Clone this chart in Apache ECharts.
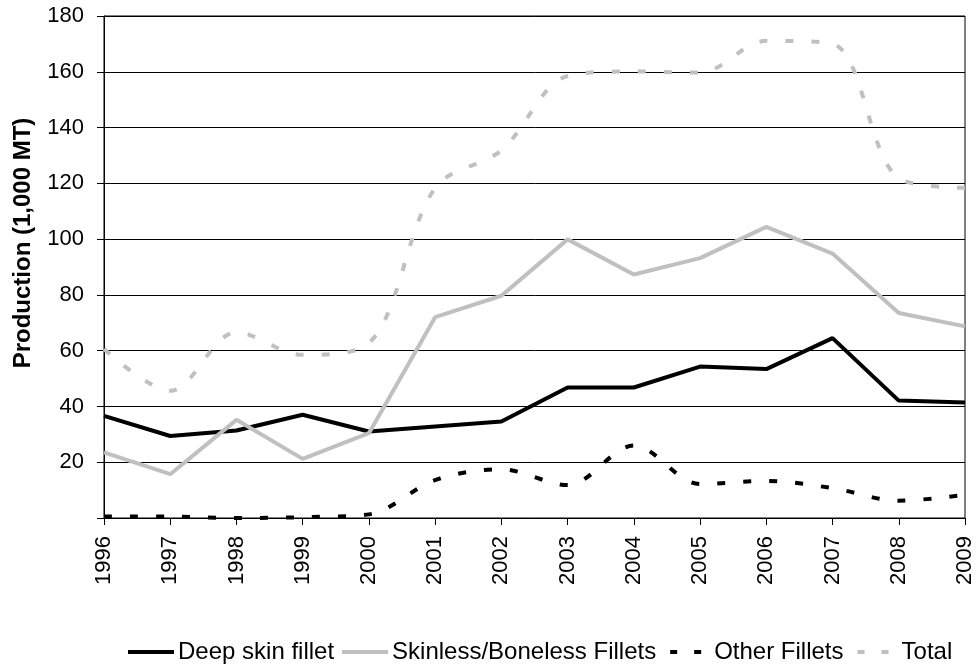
<!DOCTYPE html>
<html>
<head>
<meta charset="utf-8">
<script src="https://cdn.jsdelivr.net/npm/echarts@6/dist/echarts.min.js"></script>
<style>
  html, body { margin: 0; padding: 0; background: #fff; }
  #chart { width: 976px; height: 664px; }
</style>
</head>
<body>
<div id="chart"></div>
<script>
const years = ["1996", "1997", "1998", "1999", "2000", "2001", "2002", "2003", "2004", "2005", "2006", "2007", "2008", "2009"];
const deepSkin = [36.6, 29.4, 31.4, 37, 31, 32.8, 34.6, 46.8, 46.8, 54.3, 53.4, 64.5, 42.1, 41.4];
const skinless = [23.5, 15.7, 35.2, 21.2, 30.4, 72, 79.7, 99.9, 87.3, 93.2, 104.4, 94.8, 73.5, 68.7];
const otherFillets = [0.5, 0.5, 0, 0.3, 1.3, 13.6, 17.5, 11.8, 26, 12.2, 13.3, 10.7, 6.2, 8.3];
const total = [60.6, 45.6, 66.6, 58.5, 62.7, 118.4, 131.8, 158.5, 160.1, 159.7, 171.1, 170, 121.8, 118.4];

const chart = echarts.init(document.getElementById("chart"));

const font = "Liberation Sans, Arial, sans-serif";
// legend icons: a solid bar, and two small squares (tiny corner dots keep the box size)
const solidIcon = "path://M0,0H46V4H0Z";
const dashIcon = "path://M0,0h0.01v0.01h-0.01z M45.99,3.99h0.01v0.01h-0.01z M6,0h7v4h-7z M30,0h7v4h-7z";

chart.setOption({
  animation: false,
  backgroundColor: "#fff",
  textStyle: { fontFamily: font },
  grid: {
    left: 104,
    right: 8,
    top: 16,
    bottom: 146,
    show: true,
    borderColor: "#000",
    borderWidth: 1,
  },
  graphic: [
    {
      type: "text",
      x: 23,
      y: 243,
      rotation: Math.PI / 2,
      style: {
        text: "Production (1,000 MT)",
        font: "bold 24px " + font,
        fill: "#000",
        align: "center",
        verticalAlign: "middle",
      },
    },
  ],
  legend: {
    top: 635,
    left: 123,
    itemWidth: 46,
    itemHeight: 4,
    itemGap: 8,
    itemStyle: { borderWidth: 0 },
    textStyle: { fontSize: 24, color: "#000", fontFamily: font, padding: [0, 0, 0, -1] },
    data: [
      { name: "Deep skin fillet", icon: solidIcon },
      { name: "Skinless/Boneless Fillets", icon: solidIcon },
      { name: "Other Fillets", icon: dashIcon },
      { name: "Total", icon: dashIcon },
    ],
  },
  xAxis: {
    type: "category",
    data: years,
    boundaryGap: false,
    axisLine: { lineStyle: { color: "#000", width: 1 } },
    axisTick: { show: true, length: 7, alignWithLabel: true, lineStyle: { color: "#000" } },
    axisLabel: { rotate: 90, fontSize: 22, color: "#000", margin: 18, fontFamily: font },
    splitLine: { show: false },
  },
  yAxis: {
    type: "value",
    min: 0,
    max: 180,
    interval: 20,
    axisLine: { show: true, lineStyle: { color: "#000", width: 1 } },
    axisTick: { show: true, length: 7, lineStyle: { color: "#000" } },
    axisLabel: {
      fontSize: 22,
      color: "#000",
      margin: 20,
      fontFamily: font,
      formatter: function (v) { return v === 0 ? "" : String(v); },
    },
    splitLine: { show: true, lineStyle: { color: "#000", width: 1 } },
  },
  series: [
    {
      name: "Deep skin fillet",
      type: "line",
      data: deepSkin,
      symbol: "none",
      color: "#000",
      lineStyle: { color: "#000", width: 4 },
    },
    {
      name: "Skinless/Boneless Fillets",
      type: "line",
      data: skinless,
      symbol: "none",
      color: "#c0c0c0",
      lineStyle: { color: "#c0c0c0", width: 4 },
    },
    {
      name: "Other Fillets",
      type: "line",
      data: otherFillets,
      symbol: "none",
      smooth: 0.33,
      color: "#000",
      lineStyle: { color: "#000", width: 4, type: [8, 18], cap: "butt" },
    },
    {
      name: "Total",
      type: "line",
      data: total,
      symbol: "none",
      smooth: 0.33,
      color: "#c0c0c0",
      lineStyle: { color: "#c0c0c0", width: 4, type: [8, 18], cap: "butt" },
    },
  ],
});
</script>
</body>
</html>
